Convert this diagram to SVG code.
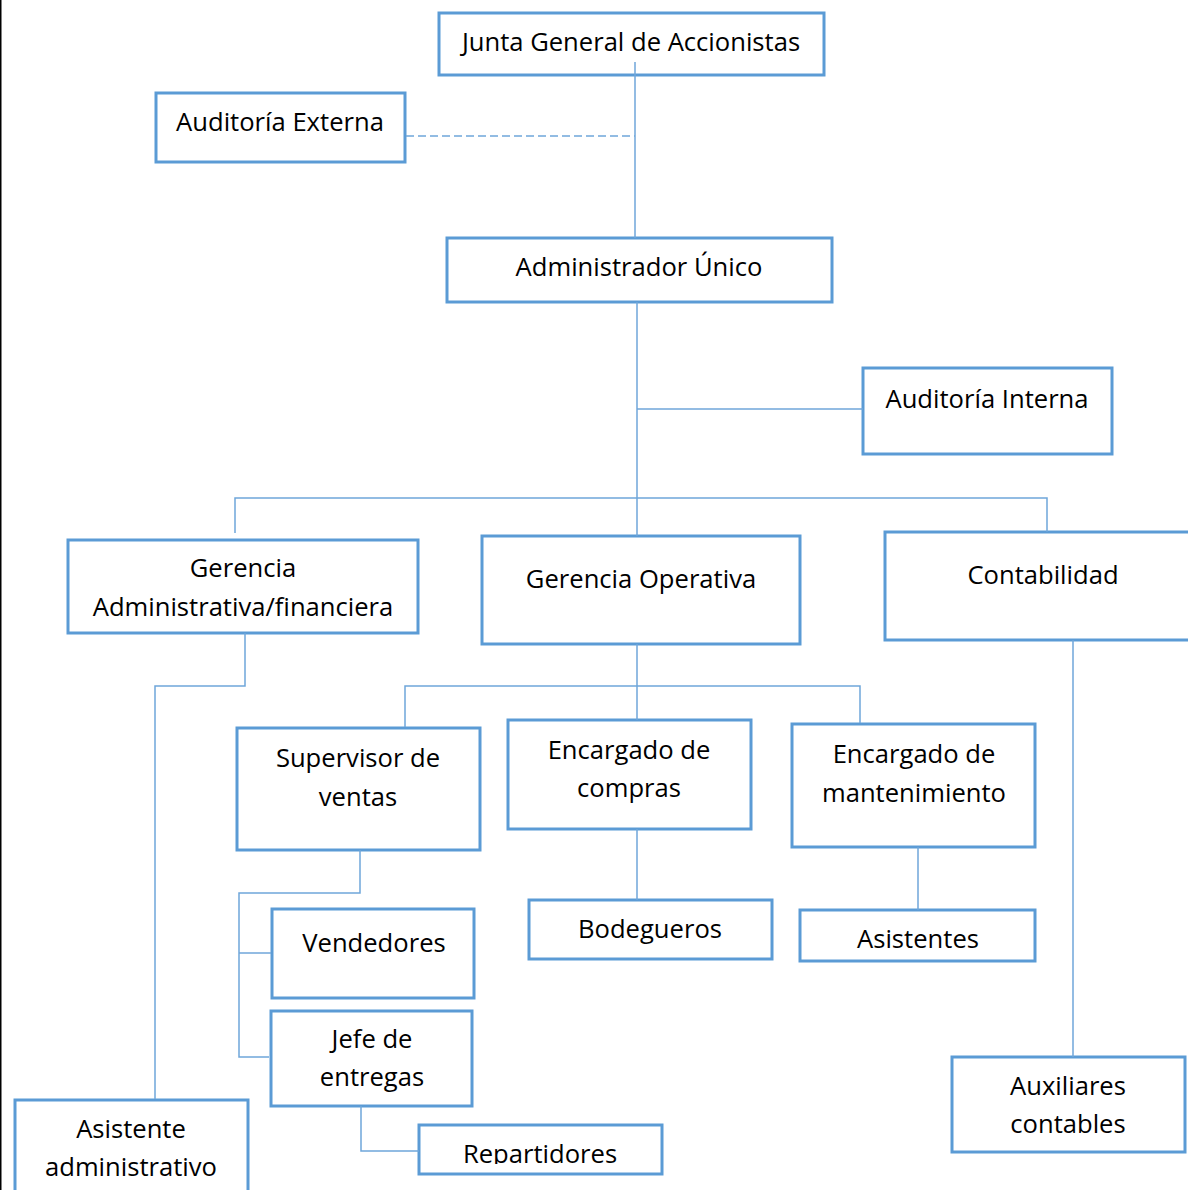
<svg xmlns="http://www.w3.org/2000/svg" width="1188" height="1190" viewBox="0 0 1188 1190">
<defs>
<style>
.box{fill:#fff;stroke:#5B9BD5;stroke-width:3}
.ln{fill:none;stroke:#6FA6DA;stroke-width:1.5}
.dash{stroke-dasharray:8 4}
text{font-family:"Open Sans","Noto Sans",sans-serif;font-size:25.6px;fill:#000;text-anchor:middle}
</style>
<clipPath id="clipRep"><rect x="0" y="0" width="1188" height="1164"/></clipPath>
</defs>
<rect x="0" y="0" width="1188" height="1190" fill="#fff"/>
<line x1="0.75" y1="0" x2="0.75" y2="1190" stroke="#000" stroke-width="1.5"/>

<g id="nodes">
<g id="junta"><rect class="box" x="439" y="13" width="385" height="62"/><text x="631" y="51">Junta General de Accionistas</text></g>
<g id="auditoria-externa"><rect class="box" x="156" y="93" width="249" height="69"/><text x="280" y="131">Auditoría Externa</text></g>
<g id="administrador"><rect class="box" x="447" y="238" width="385" height="64"/><text x="639" y="276">Administrador Único</text></g>
<g id="auditoria-interna"><rect class="box" x="863" y="368" width="249" height="86"/><text x="987" y="408">Auditoría Interna</text></g>
<g id="gerencia-adm"><rect class="box" x="68" y="540" width="350" height="93"/><text x="243" y="577">Gerencia</text><text x="243" y="616">Administrativa/financiera</text></g>
<g id="gerencia-op"><rect class="box" x="482" y="536" width="318" height="108"/><text x="641" y="588">Gerencia Operativa</text></g>
<g id="contabilidad"><rect class="box" x="885" y="532" width="310" height="108"/><text x="1043" y="584">Contabilidad</text></g>
<g id="supervisor"><rect class="box" x="237" y="728" width="243" height="122"/><text x="358" y="767">Supervisor de</text><text x="358" y="806">ventas</text></g>
<g id="compras"><rect class="box" x="508" y="720" width="243" height="109"/><text x="629" y="759">Encargado de</text><text x="629" y="797">compras</text></g>
<g id="mantenimiento"><rect class="box" x="792" y="724" width="243" height="123"/><text x="914" y="763">Encargado de</text><text x="914" y="802">mantenimiento</text></g>
<g id="vendedores"><rect class="box" x="272" y="909" width="202" height="89"/><text x="374" y="952">Vendedores</text></g>
<g id="jefe-entregas"><rect class="box" x="271" y="1011" width="201" height="95"/><text x="372" y="1048">Jefe de</text><text x="372" y="1086">entregas</text></g>
<g id="bodegueros"><rect class="box" x="529" y="900" width="243" height="59"/><text x="650" y="938">Bodegueros</text></g>
<g id="asistentes"><rect class="box" x="800" y="910" width="235" height="51"/><text x="918" y="948">Asistentes</text></g>
<g id="auxiliares"><rect class="box" x="952" y="1057" width="233" height="95"/><text x="1068" y="1095">Auxiliares</text><text x="1068" y="1133">contables</text></g>
<g id="asistente-adm"><rect class="box" x="15" y="1100" width="233" height="100"/><text x="131" y="1138">Asistente</text><text x="131" y="1176">administrativo</text></g>
<g id="repartidores"><rect class="box" x="419" y="1125" width="243" height="49"/><text x="540" y="1163" clip-path="url(#clipRep)">Repartidores</text></g>
</g>

<g id="connectors">
<line class="ln" x1="635" y1="62" x2="635" y2="238"/>
<line class="ln dash" x1="406" y1="136" x2="635" y2="136"/>
<line class="ln" x1="637" y1="302" x2="637" y2="536"/>
<line class="ln" x1="637" y1="409" x2="863" y2="409"/>
<polyline class="ln" points="235,533 235,498 1047,498 1047,532"/>
<polyline class="ln" points="245,633 245,686 155,686 155,1099"/>
<line class="ln" x1="637" y1="644" x2="637" y2="720"/>
<polyline class="ln" points="405,727 405,686 860,686 860,723"/>
<line class="ln" x1="1073" y1="640" x2="1073" y2="1057"/>
<polyline class="ln" points="360,850 360,893 239,893 239,1057 269,1057"/>
<line class="ln" x1="239" y1="953" x2="271" y2="953"/>
<line class="ln" x1="637" y1="829" x2="637" y2="900"/>
<line class="ln" x1="918" y1="847" x2="918" y2="910"/>
<polyline class="ln" points="361,1106 361,1151 419,1151"/>
</g>
</svg>
